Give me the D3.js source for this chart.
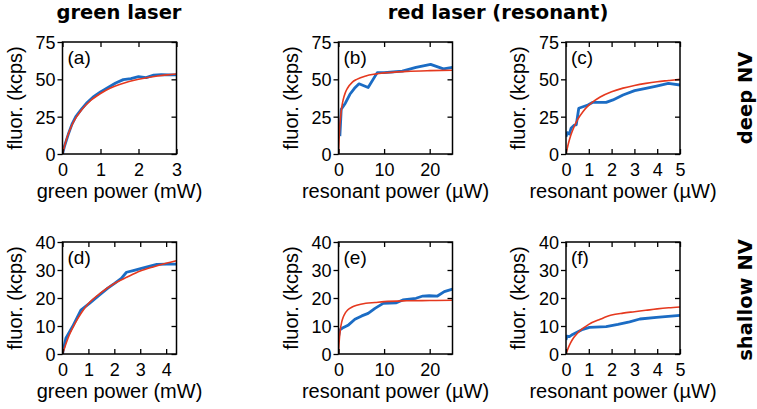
<!DOCTYPE html>
<html>
<head>
<meta charset="utf-8">
<script src="https://cdn.jsdelivr.net/npm/d3@7"></script>
<style>
  body { margin: 0; background: #fff; }
  text { font-family: "Liberation Sans", Arial, sans-serif; fill: #000; }
  .title { font-family: "DejaVu Sans", sans-serif; font-weight: bold; font-size: 19.5px; }
</style>
</head>
<body>
<div id="container"></div>
<script>
// (a) deep NV, green laser
const aPower = [0, 0.05, 0.15, 0.25, 0.35, 0.5, 0.65, 0.8, 1.0, 1.2, 1.4, 1.6, 1.8, 2.0, 2.2, 2.4, 2.6, 2.8, 3.0];
const aFluor = [0, 5, 13, 20, 25, 30, 34.5, 38, 41.5, 44.5, 47.5, 49.8, 50.5, 51.8, 51.2, 52.8, 53.2, 53, 53];
const aFitPower = [0, 0.1, 0.2, 0.3, 0.5, 0.75, 1, 1.25, 1.5, 1.75, 2, 2.25, 2.5, 2.75, 3];
const aFitFluor = [0, 9.5, 16.5, 22, 29.5, 36, 40.5, 44, 46.5, 48.5, 50, 51.2, 52.2, 53, 53.6];

// (b) deep NV, resonant
const bPower = [0.3, 0.6, 1.5, 2.5, 3.5, 4.5, 6.5, 8.5, 10, 14, 17, 20.2, 23, 25];
const bFluor = [12, 30, 34, 40, 44, 47, 44.5, 54.5, 54.5, 55.5, 58, 60, 57, 58];
const bFitPower = [0, 0.15, 0.3, 0.5, 0.75, 1, 1.5, 2, 3, 4, 6, 8, 10, 15, 20, 25];
const bFitFluor = [0, 11, 19.2, 26, 32, 36, 41.1, 44.2, 48, 50, 52.3, 53.5, 54.3, 55.3, 55.8, 56.1];

// (c) deep NV, resonant (low power)
const cPower = [0, 0.06, 0.15, 0.22, 0.37, 0.45, 0.56, 0.96, 1.18, 1.76, 2.06, 2.5, 3.01, 3.5, 3.97, 4.49, 5];
const cFluor = [11.6, 14.3, 13.4, 17.2, 19.4, 19.5, 30.6, 32.8, 34.6, 34.6, 36.2, 39.5, 42.4, 44, 45.5, 47.3, 46.2];
const cFitPower = [0, 0.1, 0.2, 0.3, 0.5, 0.75, 1, 1.25, 1.5, 2, 2.5, 3, 3.5, 4, 4.5, 5];
const cFitFluor = [0, 6.7, 12, 16.2, 22.8, 28.5, 32.7, 35.8, 38.2, 41.7, 44.1, 45.9, 47.3, 48.4, 49.2, 50];

// (d) shallow NV, green laser
const dPower = [0, 0.13, 0.39, 0.71, 1.04, 1.43, 1.75, 2.01, 2.27, 2.47, 2.73, 3.05, 3.38, 3.64, 4.03, 4.4];
const dFluor = [0, 5.6, 9.8, 15.7, 18.1, 21.1, 23.5, 25.2, 27, 29.2, 29.8, 30.6, 31.4, 32, 32.1, 32.1];
const dFitPower = [0, 0.25, 0.5, 0.75, 1, 1.5, 2, 2.5, 3, 3.5, 4, 4.4];
const dFitFluor = [0, 6.5, 11.2, 15, 18, 22, 25.2, 27.5, 29.6, 31.1, 32.4, 33.3];

// (e) shallow NV, resonant
const ePower = [0, 0.3, 1.1, 2.2, 3.6, 5.1, 6.5, 8, 9.8, 12.7, 14.1, 17, 18.5, 19.9, 21.7, 23.2, 25];
const eFluor = [6.2, 8.6, 9.5, 10.4, 12.4, 13.6, 14.5, 16.3, 18.1, 18.3, 19.3, 19.9, 20.7, 20.8, 20.7, 22.3, 23.2];
const eFitPower = [0, 0.1, 0.2, 0.4, 0.7, 1, 1.5, 2, 3, 4, 6, 8, 10, 15, 20, 25];
const eFitFluor = [0, 3.3, 5.6, 8.7, 11.4, 13, 14.7, 15.7, 16.8, 17.4, 18.1, 18.4, 18.7, 19, 19.1, 19.2];

// (f) shallow NV, resonant (low power)
const fPower = [0, 0.04, 0.15, 0.29, 0.44, 0.74, 1.03, 1.76, 2.28, 2.79, 3.24, 3.97, 5];
const fFluor = [5, 6.4, 6.2, 7, 7.6, 8.8, 9.5, 9.8, 10.6, 11.5, 12.5, 13.1, 13.8];
const fFitPower = [0, 0.1, 0.2, 0.35, 0.5, 0.75, 1, 1.5, 2, 2.5, 3, 3.5, 4, 4.5, 5];
const fFitFluor = [0, 2.2, 4, 6, 7.4, 9.2, 10.6, 12.4, 13.9, 14.6, 15.1, 15.6, 16.1, 16.5, 16.8];

// axis setup
const xTicksGreenDeep = [0, 1, 2, 3];
const xTicksGreenShallow = [0, 1, 2, 3, 4];
const xTicksResHigh = [0, 10, 20];
const xTicksResLow = [0, 1, 2, 3, 4, 5];
const yTicksDeep = [0, 25, 50, 75];
const yTicksShallow = [0, 10, 20, 30, 40];

const zip = (xs, ys) => xs.map((x, i) => [x, ys[i]]);

const panels = [
  { label: "(a)", col: 0, row: 0, xMax: 3, yMax: 75, xTicks: xTicksGreenDeep, yTicks: yTicksDeep,
    xLabel: "green power (mW)", data: zip(aPower, aFluor), fit: zip(aFitPower, aFitFluor) },
  { label: "(b)", col: 1, row: 0, xMax: 25, yMax: 75, xTicks: xTicksResHigh, yTicks: yTicksDeep,
    xLabel: "resonant power (\u00b5W)", data: zip(bPower, bFluor), fit: zip(bFitPower, bFitFluor) },
  { label: "(c)", col: 2, row: 0, xMax: 5, yMax: 75, xTicks: xTicksResLow, yTicks: yTicksDeep,
    xLabel: "resonant power (\u00b5W)", data: zip(cPower, cFluor), fit: zip(cFitPower, cFitFluor) },
  { label: "(d)", col: 0, row: 1, xMax: 4.4, yMax: 40, xTicks: xTicksGreenShallow, yTicks: yTicksShallow,
    xLabel: "green power (mW)", data: zip(dPower, dFluor), fit: zip(dFitPower, dFitFluor) },
  { label: "(e)", col: 1, row: 1, xMax: 25, yMax: 40, xTicks: xTicksResHigh, yTicks: yTicksShallow,
    xLabel: "resonant power (\u00b5W)", data: zip(ePower, eFluor), fit: zip(eFitPower, eFitFluor) },
  { label: "(f)", col: 2, row: 1, xMax: 5, yMax: 40, xTicks: xTicksResLow, yTicks: yTicksShallow,
    xLabel: "resonant power (\u00b5W)", data: zip(fPower, fFluor), fit: zip(fFitPower, fFitFluor) },
];

const width = 757;
const height = 409;
const lefts = [62.5, 338.5, 566];
const tops = [42, 242];
const pw = 114;
const ph = 112;
const blue = "#1b6cc4";
const red = "#e5391f";
const fmt = d3.format("d");

const svg = d3
  .select("#container")
  .append("svg")
  .attr("width", width)
  .attr("height", height);

panels.forEach((p) => {
  const x0 = lefts[p.col];
  const y0 = tops[p.row];
  const g = svg.append("g").attr("transform", `translate(${x0},${y0})`);

  const xScale = d3.scaleLinear().domain([0, p.xMax]).range([0, pw]);
  const yScale = d3.scaleLinear().domain([0, p.yMax]).range([ph, 0]);

  const clipId = "clip" + p.label.replace(/[()]/g, "");
  g.append("clipPath").attr("id", clipId)
    .append("rect").attr("width", pw).attr("height", ph);

  const line = d3.line().x((d) => xScale(d[0])).y((d) => yScale(d[1]));
  const fitLine = d3.line().x((d) => xScale(d[0])).y((d) => yScale(d[1])).curve(d3.curveMonotoneX);

  const plot = g.append("g").attr("clip-path", `url(#${clipId})`);
  plot.append("path").datum(p.data).attr("d", line)
    .attr("fill", "none").attr("stroke", blue).attr("stroke-width", 2.8)
    .attr("stroke-linejoin", "round");
  plot.append("path").datum(p.fit).attr("d", fitLine)
    .attr("fill", "none").attr("stroke", red).attr("stroke-width", 1.6);

  // axes: labels outside, mirror ticks inside
  const xAxis = d3.axisBottom(xScale).tickValues(p.xTicks).tickFormat(fmt)
    .tickSizeInner(-5).tickSizeOuter(0).tickPadding(9);
  const yAxis = d3.axisLeft(yScale).tickValues(p.yTicks).tickFormat(fmt)
    .tickSizeInner(5).tickSizeOuter(0).tickPadding(2);
  const xTop = d3.axisTop(xScale).tickValues(p.xTicks).tickSizeInner(-5).tickSizeOuter(0).tickFormat("");
  const yRight = d3.axisRight(yScale).tickValues(p.yTicks).tickSizeInner(-5).tickSizeOuter(0).tickFormat("");

  const gx = g.append("g").attr("transform", `translate(0,${ph})`).call(xAxis);
  const gy = g.append("g").call(yAxis);
  const gt = g.append("g").call(xTop);
  const gr = g.append("g").attr("transform", `translate(${pw},0)`).call(yRight);

  [gx, gy, gt, gr].forEach((a) => {
    a.select(".domain").remove();
    a.selectAll("line").attr("stroke", "#000").attr("stroke-width", 1.3);
    a.selectAll("text").style("font-size", "18px").attr("fill", "#000");
  });
  gx.selectAll("text").attr("dy", "0.71em");
  gy.selectAll("text").attr("dy", "0.36em");

  g.append("rect").attr("width", pw).attr("height", ph)
    .attr("fill", "none").attr("stroke", "#000").attr("stroke-width", 1.5);

  g.append("text").attr("x", 5).attr("y", 22).style("font-size", "19px").text(p.label);

  g.append("text")
    .attr("x", pw / 2).attr("y", ph + 44)
    .attr("text-anchor", "middle").style("font-size", "20px")
    .text(p.xLabel);

  g.append("text")
    .attr("transform", `translate(-41,${ph / 2}) rotate(-90)`)
    .attr("text-anchor", "middle").style("font-size", "20px")
    .text("fluor. (kcps)");
});

// column and row titles
svg.append("text").attr("class", "title").attr("x", 119).attr("y", 18.5)
  .attr("text-anchor", "middle").text("green laser");
svg.append("text").attr("class", "title").attr("x", 498).attr("y", 18.5)
  .attr("text-anchor", "middle").text("red laser (resonant)");
svg.append("text").attr("class", "title")
  .attr("transform", "translate(752,98) rotate(-90)")
  .attr("text-anchor", "middle").text("deep NV");
svg.append("text").attr("class", "title")
  .attr("transform", "translate(752,300) rotate(-90)")
  .attr("text-anchor", "middle").text("shallow NV");
</script>
</body>
</html>
